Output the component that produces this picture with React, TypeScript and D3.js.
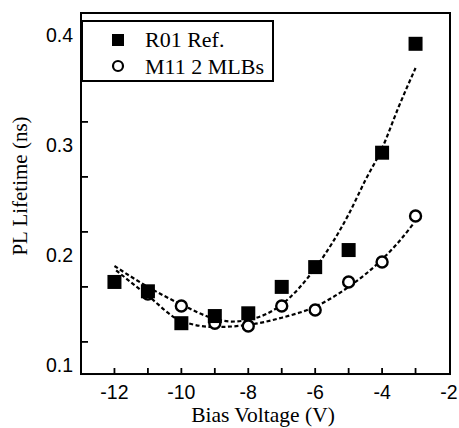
import React from "react";
import * as d3 from "d3";

const voltages = [-12, -11, -10, -9, -8, -7, -6, -5, -4, -3];
const r01Ref = [0.1755, 0.167, 0.138, 0.1445, 0.147, 0.171, 0.189, 0.2045, 0.293, 0.392];
const m11Voltages = [-11, -10, -9, -8, -7, -6, -5, -4, -3];
const m11Mlbs = [0.1645, 0.1536, 0.138, 0.1355, 0.1536, 0.15, 0.1755, 0.1936, 0.2355];

const r01FitV = [-12, -11, -10, -9, -8.5, -8, -7, -6, -5, -4.5, -4, -3.5, -3];
const r01FitY = [0.19, 0.171, 0.155, 0.142, 0.1395, 0.141, 0.155, 0.188, 0.237, 0.268, 0.297, 0.335, 0.37];
const m11FitV = [-11.95, -11, -10, -9, -8, -7, -6, -5, -4, -3.5, -3.05];
const m11FitY = [0.186, 0.163, 0.14, 0.1345, 0.1365, 0.143, 0.153, 0.171, 0.196, 0.212, 0.229];

const xTickLabels = [-12, -10, -8, -6, -4, -2];
const xTickMarks = [-12, -11, -10, -9, -8, -7, -6, -5, -4, -3];
const yTickLabels = [0.1, 0.2, 0.3, 0.4];
const yTickMarks = [0.121, 0.171, 0.221, 0.271, 0.321, 0.371];

const legendLabels = ["R01 Ref.", "M11 2 MLBs"];

const W = 459;
const H = 428;
const SANS = "'Liberation Sans', Arial, sans-serif";
const SERIF = "'Liberation Serif', 'Times New Roman', serif";

export default function App() {
  const x = d3.scaleLinear().domain([-13, -2]).range([81, 449]);
  const y = d3.scaleLinear().domain([0.1, 0.4]).range([365, 35]);
  const yTop = 0.42;
  const yBot = 0.0918;
  const [x0, x1] = [x(-13.0), x(-2) + 1];
  const [y0, y1] = [y(yTop), y(yBot)];

  const line = d3
    .line<[number, number]>()
    .x((d) => x(d[0]))
    .y((d) => y(d[1]))
    .curve(d3.curveMonotoneX);

  const r01Fit = line(r01FitV.map((v, i) => [v, r01FitY[i]]) as [number, number][]) || "";
  const m11Fit = line(m11FitV.map((v, i) => [v, m11FitY[i]]) as [number, number][]) || "";

  const sq = 14;
  const lx0 = x0 + 1;
  const ly0 = 21;
  const lw = 191;
  const lh = 60;

  return (
    <svg
      width={W}
      height={H}
      style={{ position: "absolute", left: 0, top: 0, background: "#fff" }}
    >
      <rect x={0} y={0} width={W} height={H} fill="#fff" />
      {/* fits */}
      <path d={r01Fit} fill="none" stroke="#000" strokeWidth={2.2} strokeDasharray="4,2.5" />
      <path d={m11Fit} fill="none" stroke="#000" strokeWidth={2.2} strokeDasharray="4,2.5" />
      {/* circles */}
      {m11Voltages.map((v, i) => (
        <circle
          key={"c" + i}
          cx={x(v)}
          cy={y(m11Mlbs[i])}
          r={5.5}
          fill="#fff"
          stroke="#000"
          strokeWidth={2.4}
        />
      ))}
      {/* squares */}
      {voltages.map((v, i) => (
        <rect
          key={"s" + i}
          x={x(v) - sq / 2}
          y={y(r01Ref[i]) - sq / 2}
          width={sq}
          height={sq}
          fill="#000"
        />
      ))}
      {/* frame */}
      <rect x={x0} y={y0} width={x1 - x0} height={y1 - y0} fill="none" stroke="#000" strokeWidth={2} />
      {/* x ticks */}
      {xTickMarks.map((v) => (
        <line key={"xt" + v} x1={x(v)} x2={x(v)} y1={y1} y2={y1 - 6} stroke="#000" strokeWidth={1.8} />
      ))}
      {xTickLabels.map((v) => (
        <text
          key={"xl" + v}
          x={x(v)}
          y={399}
          textAnchor="middle"
          fontFamily={SANS}
          fontSize={19.5}
          fill="#000"
        >
          {String(v)}
        </text>
      ))}
      {/* y ticks */}
      {yTickMarks.map((v) => (
        <line key={"yt" + v} x1={x0} x2={x0 + 7} y1={y(v)} y2={y(v)} stroke="#000" strokeWidth={1.8} />
      ))}
      {yTickLabels.map((v) => (
        <text
          key={"yl" + v}
          x={73}
          y={y(v)}
          dy="0.36em"
          textAnchor="end"
          fontFamily={SANS}
          fontSize={19.5}
          fill="#000"
        >
          {v.toFixed(1)}
        </text>
      ))}
      {/* axis titles */}
      <text x={263} y={422} textAnchor="middle" fontFamily={SERIF} fontSize={21.5} fill="#000">
        Bias Voltage (V)
      </text>
      <text
        transform={`translate(27,186) rotate(-90)`}
        textAnchor="middle"
        fontFamily={SERIF}
        fontSize={21}
        fill="#000"
      >
        PL Lifetime (ns)
      </text>
      {/* legend */}
      <rect x={lx0} y={ly0} width={lw} height={lh} fill="#fff" stroke="#000" strokeWidth={2} />
      <rect x={118 - 6} y={40 - 6} width={12} height={12} fill="#000" />
      <circle cx={118} cy={66} r={5} fill="#fff" stroke="#000" strokeWidth={2.2} />
      <text x={145} y={47} fontFamily={SERIF} fontSize={22} fill="#000">
        {legendLabels[0]}
      </text>
      <text x={145} y={74} fontFamily={SERIF} fontSize={22} fill="#000">
        {legendLabels[1]}
      </text>
    </svg>
  );
}
